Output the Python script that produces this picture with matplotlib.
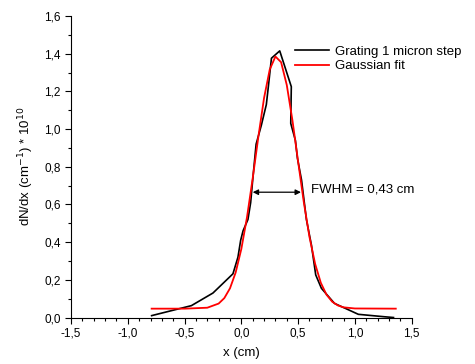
import matplotlib.pyplot as plt
from matplotlib.ticker import MultipleLocator, FuncFormatter

plt.rcParams['font.family'] = ['Liberation Sans', 'DejaVu Sans']

x_data = [-0.79, -0.44, -0.25, -0.074, -0.03, -0.006, 0.015, 0.058, 0.082, 0.10,
          0.13, 0.176, 0.22, 0.235, 0.265, 0.338, 0.397, 0.44, 0.435, 0.476,
          0.494, 0.53, 0.573, 0.617, 0.655, 0.705, 0.82, 1.03, 1.26, 1.34]
y_data = [0.01, 0.063, 0.13, 0.232, 0.32, 0.41, 0.46, 0.52, 0.61, 0.73,
          0.92, 1.02, 1.13, 1.21, 1.376, 1.415, 1.305, 1.225, 1.03, 0.94,
          0.845, 0.73, 0.52, 0.385, 0.226, 0.155, 0.075, 0.017, 0.004, 0.0]

# gaussian fit curve
x_fit = [-0.79, -0.5, -0.3, -0.2, -0.15, -0.1, -0.05, 0.0, 0.05, 0.1, 0.15, 0.2,
         0.25, 0.3, 0.35, 0.4, 0.45, 0.5, 0.55, 0.6, 0.65, 0.7, 0.75, 0.8,
         0.85, 0.9, 1.0, 1.36]
y_fit = [0.047, 0.047, 0.052, 0.074, 0.103, 0.155, 0.239, 0.364, 0.533, 0.739,
         0.960, 1.165, 1.316, 1.385, 1.355, 1.234, 1.046, 0.827, 0.612, 0.427,
         0.284, 0.184, 0.121, 0.084, 0.064, 0.054, 0.048, 0.047]

fwhm_left, fwhm_right, fwhm_y = 0.10, 0.525, 0.665

fig = plt.figure(figsize=(4.75, 3.64), dpi=100)
ax = fig.add_axes([0.1495, 0.1277, 0.7172, 0.8283])

ax.plot(x_data, y_data, color='black', lw=1.2, label='Grating 1 micron step')
ax.plot(x_fit, y_fit, color='red', lw=1.3, label='Gaussian fit')

ax.annotate('', xy=(fwhm_left, fwhm_y), xytext=(fwhm_right, fwhm_y),
            arrowprops=dict(arrowstyle='<|-|>', color='black', lw=0.9,
                            mutation_scale=8, shrinkA=0, shrinkB=0))
ax.text(0.61, 0.68, 'FWHM = 0,43 cm', fontsize=9.5, va='center', ha='left')

ax.set_xlim(-1.5, 1.5)
ax.set_ylim(0, 1.6)
ax.xaxis.set_major_locator(MultipleLocator(0.5))
ax.xaxis.set_minor_locator(MultipleLocator(0.1))
ax.yaxis.set_major_locator(MultipleLocator(0.2))
ax.yaxis.set_minor_locator(MultipleLocator(0.1))
comma = FuncFormatter(lambda v, p: ('%.1f' % v).replace('.', ','))
ax.xaxis.set_major_formatter(comma)
ax.yaxis.set_major_formatter(comma)
ax.tick_params(which='major', direction='out', length=4, width=0.8, labelsize=8.5)
ax.tick_params(which='minor', direction='out', length=2.5, width=0.8)

ax.spines['top'].set_visible(False)
ax.spines['right'].set_visible(False)

ax.set_xlabel('x (cm)', fontsize=9.5, labelpad=5)
ax.set_ylabel('dN/dx (cm$^{-1}$) * 10$^{10}$', fontsize=9.5, labelpad=6)

ax.legend(loc='upper right', bbox_to_anchor=(1.18, 0.942), frameon=False,
          fontsize=9.5, handlelength=2.6, handletextpad=0.4, labelspacing=0.2)

fig.savefig('out.png', dpi=100)
